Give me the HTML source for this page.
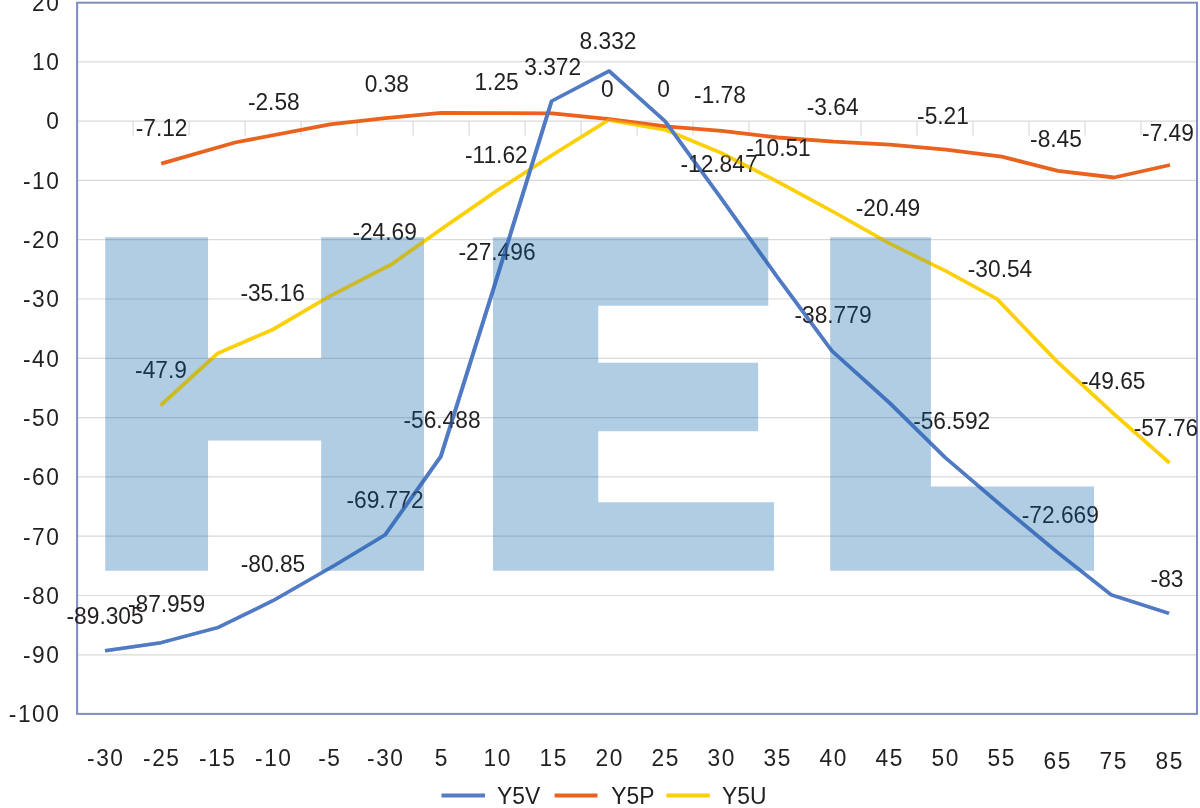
<!DOCTYPE html>
<html><head><meta charset="utf-8"><title>Chart</title>
<style>
html,body{margin:0;padding:0;background:#fff;}
body{width:1200px;height:808px;overflow:hidden;}
svg{display:block;font-family:"Liberation Sans",sans-serif;}
.dl{font-size:24.2px;fill:#231f20;text-anchor:middle;}
.ax{font-size:24.2px;fill:#231f20;letter-spacing:1.65px;}
.lg{font-size:24.2px;fill:#231f20;}
</style></head><body>
<svg width="1200" height="808" viewBox="0 0 1200 808">
<rect width="1200" height="808" fill="#fff"/>

<g stroke="#d9d9d9" stroke-width="1.2" fill="none">
<line x1="78" y1="61.8" x2="1197" y2="61.8"/>
<line x1="78" y1="121.1" x2="1197" y2="121.1"/>
<line x1="78" y1="180.4" x2="1197" y2="180.4"/>
<line x1="78" y1="239.7" x2="1197" y2="239.7"/>
<line x1="78" y1="299.0" x2="1197" y2="299.0"/>
<line x1="78" y1="358.3" x2="1197" y2="358.3"/>
<line x1="78" y1="417.6" x2="1197" y2="417.6"/>
<line x1="78" y1="476.9" x2="1197" y2="476.9"/>
<line x1="78" y1="536.2" x2="1197" y2="536.2"/>
<line x1="78" y1="595.5" x2="1197" y2="595.5"/>
<line x1="78" y1="654.8" x2="1197" y2="654.8"/>
<line x1="133.1" y1="121.1" x2="133.1" y2="135.6"/>
<line x1="189.1" y1="121.1" x2="189.1" y2="135.6"/>
<line x1="245.1" y1="121.1" x2="245.1" y2="135.6"/>
<line x1="301.1" y1="121.1" x2="301.1" y2="135.6"/>
<line x1="357.1" y1="121.1" x2="357.1" y2="135.6"/>
<line x1="413.1" y1="121.1" x2="413.1" y2="135.6"/>
<line x1="469.1" y1="121.1" x2="469.1" y2="135.6"/>
<line x1="525.1" y1="121.1" x2="525.1" y2="135.6"/>
<line x1="581.1" y1="121.1" x2="581.1" y2="135.6"/>
<line x1="637.1" y1="121.1" x2="637.1" y2="135.6"/>
<line x1="693.0" y1="121.1" x2="693.0" y2="135.6"/>
<line x1="749.0" y1="121.1" x2="749.0" y2="135.6"/>
<line x1="805.0" y1="121.1" x2="805.0" y2="135.6"/>
<line x1="861.0" y1="121.1" x2="861.0" y2="135.6"/>
<line x1="917.0" y1="121.1" x2="917.0" y2="135.6"/>
<line x1="973.0" y1="121.1" x2="973.0" y2="135.6"/>
<line x1="1029.0" y1="121.1" x2="1029.0" y2="135.6"/>
<line x1="1085.0" y1="121.1" x2="1085.0" y2="135.6"/>
<line x1="1141.0" y1="121.1" x2="1141.0" y2="135.6"/>
</g>
<rect x="77.1" y="2.7" width="1119.9" height="711.2" fill="none" stroke="#7d8dc4" stroke-width="2"/>
<polyline points="160.6,405.3 217.6,353.3 272.6,329.6 329.2,296.5 391.0,264.7 441.1,229.2 497.1,190.6 553.1,154.5 608.5,120.0 666.0,130.0 721.6,153.1 777.6,181.7 833.7,212.0 889.7,243.5 945.8,271.0 997.0,299.0 1057.9,362.4 1113.9,413.8 1169.5,462.8" fill="none" stroke="#fcd007" stroke-width="3.6" stroke-linejoin="round" stroke-linecap="butt"/>
<polyline points="161.2,163.7 235.0,142.5 330.0,124.3 385.3,118.2 441.3,112.9 497.0,113.1 552.5,113.3 609.5,119.2 665.5,126.3 721.6,130.8 777.6,137.5 833.7,141.7 889.7,144.6 945.8,149.6 1001.8,156.7 1057.9,170.8 1113.9,177.5 1170.0,165.0" fill="none" stroke="#e9631f" stroke-width="3.8" stroke-linejoin="round" stroke-linecap="butt"/>
<g transform="scale(1.15,1)"><polyline points="91.39,650.7 140.09,642.7 190.00,627.3 237.48,600.6 291.30,565.2 334.87,534.9 383.30,456.5 430.35,284.2 479.65,101.1 529.65,71.0 578.26,121.1 626.96,198.2 675.83,276.9 723.39,350.9 773.65,403.0 821.74,457.4 871.13,506.0 919.13,552.1 966.43,594.9 1016.52,613.3" fill="none" stroke="#517ac4" stroke-width="3.4" stroke-linejoin="round" stroke-linecap="butt"/></g>
<g class="dl">
<text transform="translate(105.1,624) scale(0.94,1)">-89.305</text>
<text transform="translate(166.5,611.6) scale(0.94,1)">-87.959</text>
<text transform="translate(273,572) scale(0.94,1)">-80.85</text>
<text transform="translate(385,508) scale(0.94,1)">-69.772</text>
<text transform="translate(442,427.5) scale(0.94,1)">-56.488</text>
<text transform="translate(497,260) scale(0.94,1)">-27.496</text>
<text transform="translate(552.7,75) scale(0.94,1)">3.372</text>
<text transform="translate(608,48.6) scale(0.94,1)">8.332</text>
<text transform="translate(663.5,97) scale(0.94,1)">0</text>
<text transform="translate(719,171.5) scale(0.94,1)">-12.847</text>
<text transform="translate(833,323) scale(0.94,1)">-38.779</text>
<text transform="translate(951.7,429) scale(0.94,1)">-56.592</text>
<text transform="translate(1060.3,522.5) scale(0.94,1)">-72.669</text>
<text transform="translate(1167,587) scale(0.94,1)">-83</text>
<text transform="translate(161.6,136.4) scale(0.94,1)">-7.12</text>
<text transform="translate(273.8,110.3) scale(0.94,1)">-2.58</text>
<text transform="translate(386.8,92) scale(0.94,1)">0.38</text>
<text transform="translate(496.6,89.6) scale(0.94,1)">1.25</text>
<text transform="translate(607.3,97) scale(0.94,1)">0</text>
<text transform="translate(720,103) scale(0.94,1)">-1.78</text>
<text transform="translate(832.7,115.2) scale(0.94,1)">-3.64</text>
<text transform="translate(943,124) scale(0.94,1)">-5.21</text>
<text transform="translate(1056,147) scale(0.94,1)">-8.45</text>
<text transform="translate(1168,141) scale(0.94,1)">-7.49</text>
<text transform="translate(161,378) scale(0.94,1)">-47.9</text>
<text transform="translate(272.6,301.2) scale(0.94,1)">-35.16</text>
<text transform="translate(384.6,239.8) scale(0.94,1)">-24.69</text>
<text transform="translate(496.3,163) scale(0.94,1)">-11.62</text>
<text transform="translate(778.5,156.3) scale(0.94,1)">-10.51</text>
<text transform="translate(888,216.2) scale(0.94,1)">-20.49</text>
<text transform="translate(1000,277) scale(0.94,1)">-30.54</text>
<text transform="translate(1113.2,389) scale(0.94,1)">-49.65</text>
<text transform="translate(1166,436) scale(0.94,1)">-57.76</text>
</g>
<g class="ax" text-anchor="end">
<text transform="translate(60.5,10.8) scale(0.94,1)">20</text>
<text transform="translate(60.5,70.1) scale(0.94,1)">10</text>
<text transform="translate(60.5,129.4) scale(0.94,1)">0</text>
<text transform="translate(60.5,188.7) scale(0.94,1)">-10</text>
<text transform="translate(60.5,248.0) scale(0.94,1)">-20</text>
<text transform="translate(60.5,307.3) scale(0.94,1)">-30</text>
<text transform="translate(60.5,366.6) scale(0.94,1)">-40</text>
<text transform="translate(60.5,425.9) scale(0.94,1)">-50</text>
<text transform="translate(60.5,485.2) scale(0.94,1)">-60</text>
<text transform="translate(60.5,544.5) scale(0.94,1)">-70</text>
<text transform="translate(60.5,603.8) scale(0.94,1)">-80</text>
<text transform="translate(60.5,663.1) scale(0.94,1)">-90</text>
<text transform="translate(60.5,722.4) scale(0.94,1)">-100</text>
</g>
<g class="ax" text-anchor="middle">
<text transform="translate(105.8,766.3) scale(0.94,1)">-30</text>
<text transform="translate(161.8,766.3) scale(0.94,1)">-25</text>
<text transform="translate(217.8,766.3) scale(0.94,1)">-15</text>
<text transform="translate(273.8,766.3) scale(0.94,1)">-10</text>
<text transform="translate(329.8,766.3) scale(0.94,1)">-5</text>
<text transform="translate(385.8,766.3) scale(0.94,1)">-30</text>
<text transform="translate(441.8,766.3) scale(0.94,1)">5</text>
<text transform="translate(497.8,766.3) scale(0.94,1)">10</text>
<text transform="translate(553.8,766.3) scale(0.94,1)">15</text>
<text transform="translate(609.8,766.3) scale(0.94,1)">20</text>
<text transform="translate(665.8,766.3) scale(0.94,1)">25</text>
<text transform="translate(721.8,766.3) scale(0.94,1)">30</text>
<text transform="translate(777.8,766.3) scale(0.94,1)">35</text>
<text transform="translate(833.8,766.3) scale(0.94,1)">40</text>
<text transform="translate(889.8,766.3) scale(0.94,1)">45</text>
<text transform="translate(945.8,766.3) scale(0.94,1)">50</text>
<text transform="translate(1001.8,766.3) scale(0.94,1)">55</text>
<text transform="translate(1057.8,768.7) scale(0.94,1)">65</text>
<text transform="translate(1113.8,768.7) scale(0.94,1)">75</text>
<text transform="translate(1169.8,768.7) scale(0.94,1)">85</text>
</g>
<g stroke-width="4" fill="none">
<line x1="441.5" y1="795.5" x2="485" y2="795.5" stroke="#547bc4"/>
<line x1="554.6" y1="795.5" x2="597.5" y2="795.5" stroke="#e9631f"/>
<line x1="666.4" y1="795.5" x2="709.8" y2="795.5" stroke="#fcd007"/>
</g>
<g class="lg">
<text transform="translate(497,803.5) scale(0.945,1)">Y5V</text>
<text transform="translate(611.2,803.5) scale(0.945,1)">Y5P</text>
<text transform="translate(722,803.5) scale(0.945,1)">Y5U</text>
</g>

<g aria-label="HEL" fill="#005ea6" stroke="#005ea6" stroke-linejoin="miter" opacity="0.305">
<text transform="translate(89.05,555.92) scale(0.23756,0.21564)" font-family="'Liberation Sans',sans-serif" font-weight="bold" font-size="2048" stroke-width="138">H</text>
<text transform="translate(446.73,568.60) scale(0.25994,0.22049)" font-family="'DejaVu Sans',sans-serif" font-weight="bold" font-size="2048" stroke-width="20">E</text>
<text transform="translate(819.20,552.65) scale(0.21570,0.21101)" font-family="'Liberation Sans',sans-serif" font-weight="bold" font-size="2048" stroke-width="172">L</text>
</g>
<g opacity="0.4"><polyline points="160.6,405.3 217.6,353.3 272.6,329.6 329.2,296.5 391.0,264.7 441.1,229.2 497.1,190.6 553.1,154.5 608.5,120.0 666.0,130.0 721.6,153.1 777.6,181.7 833.7,212.0 889.7,243.5 945.8,271.0 997.0,299.0 1057.9,362.4 1113.9,413.8 1169.5,462.8" fill="none" stroke="#fcd007" stroke-width="3.6" stroke-linejoin="round"/>
<g transform="scale(1.15,1)"><polyline points="91.39,650.7 140.09,642.7 190.00,627.3 237.48,600.6 291.30,565.2 334.87,534.9 383.30,456.5 430.35,284.2 479.65,101.1 529.65,71.0 578.26,121.1 626.96,198.2 675.83,276.9 723.39,350.9 773.65,403.0 821.74,457.4 871.13,506.0 919.13,552.1 966.43,594.9 1016.52,613.3" fill="none" stroke="#517ac4" stroke-width="3.4" stroke-linejoin="round"/></g></g>
</svg></body></html>
